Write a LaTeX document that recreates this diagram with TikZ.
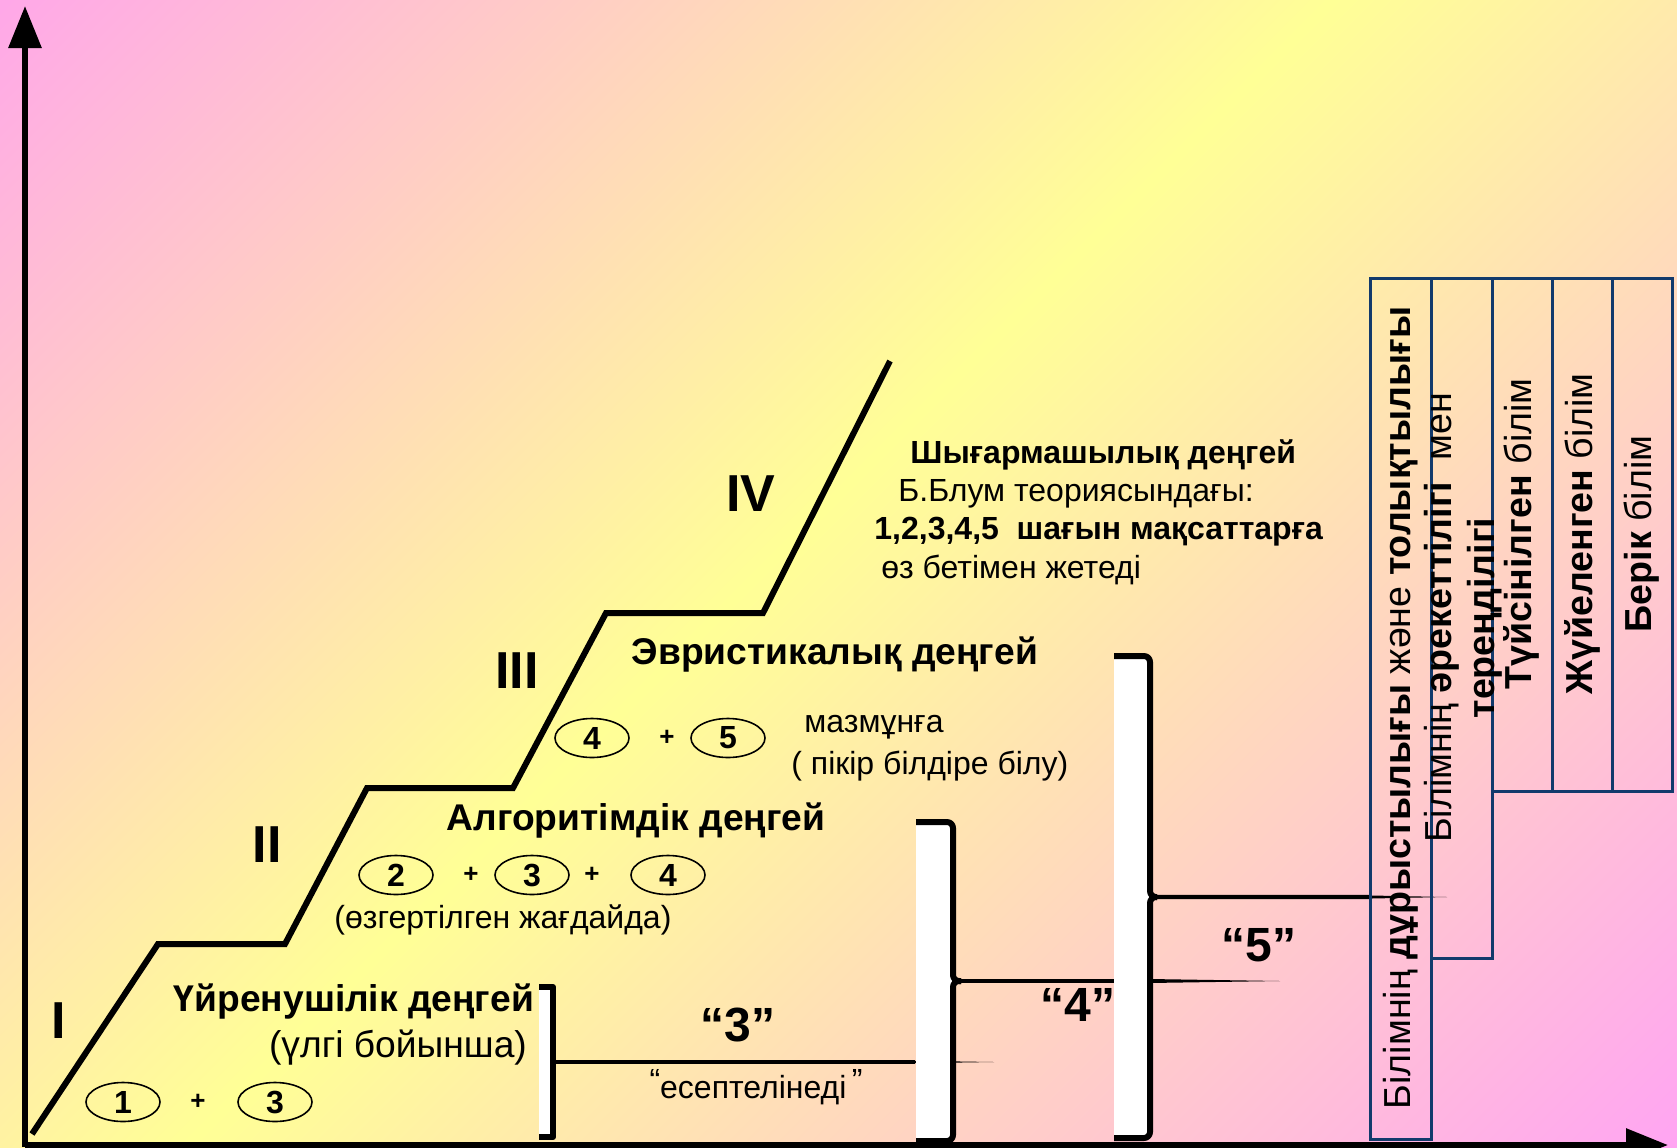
\documentclass[tikz,border=0pt]{standalone}
\usepackage{fontspec}
\setmainfont{Liberation Sans}
\usetikzlibrary{arrows.meta,shapes.geometric,calc}
\definecolor{bgpink}{RGB}{255,168,232}
\definecolor{bgyellow}{RGB}{255,255,150}
\definecolor{bgmagenta}{RGB}{255,165,242}
\definecolor{boxblue}{RGB}{18,58,108}
\pgfdeclareverticalshading{slidebg}{100bp}{color(0bp)=(bgmagenta); color(14.6bp)=(bgmagenta);
  color(52bp)=(bgyellow); color(85.4bp)=(bgpink); color(100bp)=(bgpink)}
\tikzset{
  stair/.style={line width=3pt},
  axis/.style={line width=3pt,-{Triangle[length=21pt,width=16pt]}},
  level/.style={inner sep=1pt,font=\bfseries\fontsize{18.6}{22}\selectfont},
  sublevel/.style={inner sep=1pt,font=\fontsize{18.6}{22}\selectfont},
  creative/.style={inner sep=1pt,font=\bfseries\fontsize{16}{19}\selectfont},
  remark/.style={inner sep=1pt,font=\fontsize{16}{19}\selectfont},
  roman/.style={inner sep=1pt,font=\bfseries\fontsize{26}{30}\selectfont},
  grade/.style={inner sep=1pt,font=\bfseries\fontsize{24}{28}\selectfont},
  goal/.style={draw,ellipse,line width=0.8pt,minimum width=37pt,minimum height=19.5pt,
    inner sep=0pt,font=\bfseries\fontsize{16}{18}\selectfont},
  plus/.style={inner sep=1pt,font=\bfseries\fontsize{13}{16}\selectfont},
  kbox/.style={draw=boxblue,line width=1.5pt},
  ktext/.style={rotate=90,align=center,inner sep=1pt,font=\fontsize{18.8}{21.5}\selectfont},
  brace/.style={line width=3pt,line join=round},
  link/.style={line width=2.2pt},
}
\begin{document}
\begin{tikzpicture}[x=0.5pt,y=-0.5pt]
\newcommand\wbrace[6]{% tip, left x, line x, top y, mid y, bottom y
\fill[white] (#2,#4) rectangle (#3,#6);
\draw[brace,rounded corners=3pt] (#2,#4) -- (#3,#4) -- (#3,#5) -- (#1);
\draw[brace,rounded corners=3pt] (#2,#6) -- (#3,#6) -- (#3,#5) -- (#1);
}
\newcommand\taper[4]{% from, to, where it thins, half width
\draw[link] (#1) -- ($(#1)!#3!(#2)$);
\fill ($(#1)!#3!(#2)+(0,-#4)$) -- (#2) -- ($(#1)!#3!(#2)+(0,#4)$) -- cycle;
}

\useasboundingbox (0,0) rectangle (1677,1147);
\shade[shading=slidebg,shading angle=45] (0,0) rectangle (1677,1147);

% axes
\coordinate (O) at (25,1147);
\coordinate (ytop) at (25,6);
\coordinate (xo) at (25,1145);
\coordinate (xend) at (1668,1145);
\draw[axis] (O) -- (ytop);
\draw[axis] (xo) -- (xend);

% stairs
\draw[stair] (32,1134) -- (158,944) -- (285,944) -- (367,788) -- (513,788)
  -- (606,613) -- (763,613) -- (890,361);

% links between the brackets
\coordinate (b1) at (555,1062);
\coordinate (b1end) at (994,1062);
\coordinate (b2) at (961,981);
\coordinate (b2end) at (1280,981);
\coordinate (b3) at (1157,897);
\coordinate (b3end) at (1447,897);
\taper{b1}{b1end}{0.82}{1.2}
\taper{b2}{b2end}{0.59}{2}
\taper{b3}{b3end}{0.74}{1.5}

% brackets
\fill[white] (539,987) rectangle (553,1137);
\draw[brace] (539,987) -- (553,987) -- (553,1137) -- (539,1137);
\wbrace{b2}{916}{953}{822}{981}{1141}
\wbrace{b3}{1114}{1150}{656}{897}{1138}

% boxes
\draw[kbox] (1370,278) rectangle (1431,1139);
\draw[kbox] (1431,278) rectangle (1492,958);
\draw[kbox] (1492,278) rectangle (1552,791);
\draw[kbox] (1552,278) rectangle (1612,791);
\draw[kbox] (1612,278) rectangle (1672,791);

% levels
\node[roman] (r1) at (59,1021) {I};
\node[roman] (r2) at (267,845) {II};
\node[roman] (r3) at (517,671) {III};
\node[roman] (r4) at (751,494) {IV};

\node[level] (l1) at (354,1002) {Үйренушілік деңгей};
\node[sublevel] (l1s) at (398,1048) {(үлгі бойынша)};
\node[goal] (g11) at (123,1102) {1};
\node[plus] (p11) at (198,1102) {+};
\node[goal] (g12) at (275,1102) {3};

\node[level] (l2) at (636,821) {Алгоритімдік деңгей};
\node[goal] (g21) at (396,875) {2};
\node[plus] (p21) at (471,875) {+};
\node[goal] (g22) at (532,875) {3};
\node[plus] (p22) at (592,875) {+};
\node[goal] (g23) at (668,875) {4};
\node[remark] (l2s) at (503,920) {(өзгертілген жағдайда)};

\node[level] (l3) at (835,655) {Эвристикалық деңгей};
\node[goal] (g31) at (592,738) {4};
\node[plus] (p31) at (667,738) {+};
\node[goal] (g32) at (728,738) {5};
\node[remark,anchor=west] (l3a) at (802,727) {мазмұнға};
\node[remark,anchor=west] (l3b) at (789,766) {( пікір білдіре білу)};

\node[creative,anchor=west] (l4) at (908,455) {Шығармашылық деңгей};
\node[remark,anchor=west] (l4a) at (896,494) {Б.Блум теориясындағы:};
\node[creative,anchor=west] (l4b) at (872,532) {1,2,3,4,5\ \ шағын мақсаттарға};
\node[remark,anchor=west] (l4c) at (879,570) {өз бетімен жетеді};

% marks
\node[grade] (m3) at (738,1025) {“3”};
\node[remark] (m3s) at (756,1087) {\raisebox{.2em}{“}есептелінеді\,\raisebox{.2em}{”}};
\node[grade] (m4) at (1078,1005) {“4”};
\node[grade] (m5) at (1259,945) {“5”};

% box texts
\node[ktext] (k1) at (1401,708) {Білімнің \textbf{дұрыстылығы} және \textbf{толықтылығы}};
\node[ktext] (k2) at (1463,618) {Білімнің \textbf{әрекеттілігі}\ \ мен\\\textbf{тереңділігі}};
\node[ktext] (k3) at (1521,534) {\textbf{Түйсінілген} білім};
\node[ktext] (k4) at (1582,534) {\textbf{Жүйеленген} білім};
\node[ktext] (k5) at (1642,534) {\textbf{Берік} білім};
\end{tikzpicture}
\end{document}
